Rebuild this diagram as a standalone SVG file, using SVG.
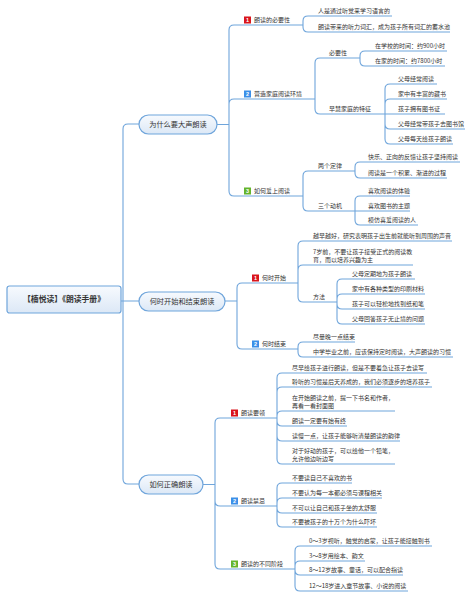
<svg xmlns="http://www.w3.org/2000/svg" width="473" height="599" viewBox="0 0 473 599">
<defs>
<linearGradient id="bg" x1="0" y1="0" x2="0" y2="1">
<stop offset="0" stop-color="#f7fafe"/>
<stop offset="1" stop-color="#dce8f6"/>
</linearGradient>
<style>
.c{fill:none;stroke:#6fa5db;stroke-width:1.1}
.u{stroke:#6fa5db;stroke-width:1.1}
.box{fill:url(#bg);stroke:#6fa5db;stroke-width:1.2}
text{font-family:"Noto Sans CJK SC","Noto Sans",sans-serif;fill:#333}
.t{font-size:6px}
.l1{font-size:7.2px;text-anchor:middle}
.root{font-size:7.8px;font-weight:bold;text-anchor:middle}
.bn{font-size:5.5px;font-weight:bold;fill:#fff;text-anchor:middle;font-family:"Liberation Sans",sans-serif}
.red{fill:#d9151c}.blue{fill:#3b8fe8}.green{fill:#63b42c}
</style>
</defs>
<rect width="473" height="599" fill="#fff"/>
<g id="connectors">
<path class="c" d="M121,301 H139 M123,301 V129 Q123,124 128,124 H139 M123,301 V479 Q123,484 128,484 H139"/>
<path class="c" d="M217,124.5 H229 V30 Q229,25 234,25 M229,124.5 V104 Q229,99 234,99 M229,124.5 V191 Q229,196 234,196"/>
<path class="c" d="M303,25 V21 Q303,16 308,16 M303,25 V27 Q303,32 308,32"/>
<path class="c" d="M315,99 V63 Q315,58 320,58 M315,99 V109 Q315,114 320,114"/>
<path class="c" d="M360,58 V56 Q360,51 365,51 M360,58 V61 Q360,66 365,66"/>
<path class="c" d="M385,114 V89 Q385,84 390,84 M385,114 V104 Q385,99 390,99 M385,114 H390 M385,114 V124 Q385,129 390,129 M385,114 V139 Q385,144 390,144"/>
<path class="c" d="M303,196 V176 Q303,171 308,171 M303,196 V206 Q303,211 308,211"/>
<path class="c" d="M355,171 V167 Q355,162 360,162 M355,171 V173 Q355,178 360,178"/>
<path class="c" d="M355,211 V201 Q355,196 360,196 M355,211 H360 M355,211 V220 Q355,225 360,225"/>
<path class="c" d="M225,301 H237 V288 Q237,283 242,283 M237,301 V344 Q237,349 242,349"/>
<path class="c" d="M298,283 V246 Q298,241 303,241 M298,283 V270 Q298,265 303,265 M298,283 V297 Q298,302 303,302"/>
<path class="c" d="M337,302 V284 Q337,279 342,279 M337,302 V299 Q337,294 342,294 M337,302 V304 Q337,309 342,309 M337,302 V319 Q337,324 342,324"/>
<path class="c" d="M298,349 V347 Q298,342 303,342 M298,349 V352 Q298,357 303,357"/>
<path class="c" d="M203,484.5 H215 V423 Q215,418 220,418 M215,484.5 V501 Q215,506 220,506 M215,484.5 V564 Q215,569 220,569"/>
<path class="c" d="M277,418 V378 Q277,373 282,373 M277,418 V392 Q277,387 282,387 M277,418 V416 Q277,411 282,411 M277,418 V421 Q277,426 282,426 M277,418 V436 Q277,441 282,441 M277,418 V459 Q277,464 282,464"/>
<path class="c" d="M277,506 V488 Q277,483 282,483 M277,506 V503 Q277,498 282,498 M277,506 V508 Q277,513 282,513 M277,506 V522 Q277,527 282,527"/>
<path class="c" d="M295,569 V551 Q295,546 300,546 M295,569 V566 Q295,561 300,561 M295,569 V570 Q295,575 300,575 M295,569 V586 Q295,591 300,591"/>
</g>
<g id="root"><rect class="box" x="7" y="286" width="114" height="27" rx="2.5"/><text class="root" x="64" y="302.3">【楠悦读】《朗读手册》</text></g>
<g id="n-why"><rect class="box" x="139" y="115" width="78" height="19" rx="9.5"/><text class="l1" x="178" y="127.1">为什么要大声朗读</text></g>
<g id="n-when"><rect class="box" x="139" y="292" width="86" height="19" rx="9.5"/><text class="l1" x="182" y="304.1">何时开始和结束朗读</text></g>
<g id="n-how"><rect class="box" x="139" y="475" width="64" height="19" rx="9.5"/><text class="l1" x="171" y="487.1">如何正确朗读</text></g>

<g id="a1"><rect class="red" x="244" y="16.5" width="7" height="7"/><text class="bn" x="247.5" y="22.2">1</text><text class="t" x="254" y="22">朗读的必要性</text><line class="u" x1="234" y1="25" x2="303" y2="25"/></g>
<g id="a1-1"><text class="t" x="318" y="13">人是通过听觉来学习语言的</text><line class="u" x1="308" y1="16" x2="392" y2="16"/></g>
<g id="a1-2"><text class="t" x="318" y="29">朗读带来的听力词汇，成为孩子所有词汇的蓄水池</text><line class="u" x1="308" y1="32" x2="450" y2="32"/></g>
<g id="a2"><rect class="blue" x="244" y="90.5" width="7" height="7"/><text class="bn" x="247.5" y="96.2">2</text><text class="t" x="254" y="96">营造家庭阅读环境</text><line class="u" x1="234" y1="99" x2="315" y2="99"/></g>
<g id="a2a"><text class="t" x="329" y="55">必要性</text><line class="u" x1="320" y1="58" x2="360" y2="58"/></g>
<g id="a2a-1"><text class="t" x="375" y="48">在学校的时间：约900小时</text><line class="u" x1="365" y1="51" x2="447" y2="51"/></g>
<g id="a2a-2"><text class="t" x="375" y="63">在家的时间：约7800小时</text><line class="u" x1="365" y1="66" x2="445" y2="66"/></g>
<g id="a2b"><text class="t" x="329" y="111">早慧家庭的特征</text><line class="u" x1="320" y1="114" x2="385" y2="114"/></g>
<g id="a2b-1"><text class="t" x="398" y="81">父母经常阅读</text><line class="u" x1="390" y1="84" x2="437" y2="84"/></g>
<g id="a2b-2"><text class="t" x="398" y="96">家中有丰富的藏书</text><line class="u" x1="390" y1="99" x2="447" y2="99"/></g>
<g id="a2b-3"><text class="t" x="398" y="111">孩子拥有图书证</text><line class="u" x1="390" y1="114" x2="445" y2="114"/></g>
<g id="a2b-4"><text class="t" x="398" y="126">父母经常带孩子去图书馆</text><line class="u" x1="390" y1="129" x2="465" y2="129"/></g>
<g id="a2b-5"><text class="t" x="398" y="141">父母每天给孩子朗读</text><line class="u" x1="390" y1="144" x2="453" y2="144"/></g>
<g id="a3"><rect class="green" x="244" y="187.5" width="7" height="7"/><text class="bn" x="247.5" y="193.2">3</text><text class="t" x="254" y="193">如何爱上阅读</text><line class="u" x1="234" y1="196" x2="303" y2="196"/></g>
<g id="a3a"><text class="t" x="318" y="168">两个定律</text><line class="u" x1="308" y1="171" x2="355" y2="171"/></g>
<g id="a3a-1"><text class="t" x="368" y="159">快乐、正向的反馈让孩子坚持阅读</text><line class="u" x1="360" y1="162" x2="460" y2="162"/></g>
<g id="a3a-2"><text class="t" x="368" y="175">阅读是一个积累、渐进的过程</text><line class="u" x1="360" y1="178" x2="447" y2="178"/></g>
<g id="a3b"><text class="t" x="318" y="208">三个动机</text><line class="u" x1="308" y1="211" x2="355" y2="211"/></g>
<g id="a3b-1"><text class="t" x="368" y="193">喜欢阅读的体验</text><line class="u" x1="360" y1="196" x2="410" y2="196"/></g>
<g id="a3b-2"><text class="t" x="368" y="208">喜欢图书的主题</text><line class="u" x1="360" y1="211" x2="410" y2="211"/></g>
<g id="a3b-3"><text class="t" x="368" y="222">模仿喜爱阅读的人</text><line class="u" x1="360" y1="225" x2="418" y2="225"/></g>

<g id="b1"><rect class="red" x="252" y="274.5" width="7" height="7"/><text class="bn" x="255.5" y="280.2">1</text><text class="t" x="262" y="280">何时开始</text><line class="u" x1="242" y1="283" x2="298" y2="283"/></g>
<g id="b1-1"><text class="t" x="313" y="238">越早越好，研究表明孩子出生前就能听到周围的声音</text><line class="u" x1="303" y1="241" x2="452" y2="241"/></g>
<g id="b1-2"><text class="t" x="313" y="253.7">7岁前，不要让孩子接受正式的阅读教</text><text class="t" x="313" y="262">育，而以培养兴趣为主</text><line class="u" x1="303" y1="265" x2="413" y2="265"/></g>
<g id="b1-3"><text class="t" x="313" y="299">方法</text><line class="u" x1="303" y1="302" x2="337" y2="302"/></g>
<g id="b1-3-1"><text class="t" x="352" y="276">父母定期地为孩子朗读</text><line class="u" x1="342" y1="279" x2="415" y2="279"/></g>
<g id="b1-3-2"><text class="t" x="352" y="291">家中有各种类型的印刷材料</text><line class="u" x1="342" y1="294" x2="425" y2="294"/></g>
<g id="b1-3-3"><text class="t" x="352" y="306">孩子可以轻松地找到纸和笔</text><line class="u" x1="342" y1="309" x2="425" y2="309"/></g>
<g id="b1-3-4"><text class="t" x="352" y="321">父母回答孩子无止境的问题</text><line class="u" x1="342" y1="324" x2="425" y2="324"/></g>
<g id="b2"><rect class="blue" x="252" y="340.5" width="7" height="7"/><text class="bn" x="255.5" y="346.2">2</text><text class="t" x="262" y="346">何时结束</text><line class="u" x1="242" y1="349" x2="298" y2="349"/></g>
<g id="b2-1"><text class="t" x="313" y="339">尽量晚一点结束</text><line class="u" x1="303" y1="342" x2="355" y2="342"/></g>
<g id="b2-2"><text class="t" x="313" y="354">中学毕业之前，应该保持定时阅读，大声朗读的习惯</text><line class="u" x1="303" y1="357" x2="453" y2="357"/></g>

<g id="c1"><rect class="red" x="231" y="409.5" width="7" height="7"/><text class="bn" x="234.5" y="415.2">1</text><text class="t" x="241" y="415">朗读要领</text><line class="u" x1="220" y1="418" x2="277" y2="418"/></g>
<g id="c1-1"><text class="t" x="292" y="370">尽早给孩子进行朗读，但是不要着急让孩子去读写</text><line class="u" x1="282" y1="373" x2="427" y2="373"/></g>
<g id="c1-2"><text class="t" x="292" y="384">聆听的习惯是后天养成的，我们必须逐步的培养孩子</text><line class="u" x1="282" y1="387" x2="432" y2="387"/></g>
<g id="c1-3"><text class="t" x="292" y="399.7">在开始朗读之前，提一下书名和作者，</text><text class="t" x="292" y="408">再看一看封面图</text><line class="u" x1="282" y1="411" x2="395" y2="411"/></g>
<g id="c1-4"><text class="t" x="292" y="423">朗读一定要有始有终</text><line class="u" x1="282" y1="426" x2="347" y2="426"/></g>
<g id="c1-5"><text class="t" x="292" y="438">读慢一点，让孩子能够听清楚朗读的韵律</text><line class="u" x1="282" y1="441" x2="400" y2="441"/></g>
<g id="c1-6"><text class="t" x="292" y="452.7">对于好动的孩子，可以给他一个铅笔，</text><text class="t" x="292" y="461">允许他边听边写</text><line class="u" x1="282" y1="464" x2="395" y2="464"/></g>
<g id="c2"><rect class="blue" x="231" y="497.5" width="7" height="7"/><text class="bn" x="234.5" y="503.2">2</text><text class="t" x="241" y="503">朗读禁忌</text><line class="u" x1="220" y1="506" x2="277" y2="506"/></g>
<g id="c2-1"><text class="t" x="292" y="480">不要读自己不喜欢的书</text><line class="u" x1="282" y1="483" x2="352" y2="483"/></g>
<g id="c2-2"><text class="t" x="292" y="495">不要认为每一本都必须与课程相关</text><line class="u" x1="282" y1="498" x2="382" y2="498"/></g>
<g id="c2-3"><text class="t" x="292" y="510">不可以让自己和孩子坐的太舒服</text><line class="u" x1="282" y1="513" x2="377" y2="513"/></g>
<g id="c2-4"><text class="t" x="292" y="524">不要被孩子的十万个为什么吓坏</text><line class="u" x1="282" y1="527" x2="377" y2="527"/></g>
<g id="c3"><rect class="green" x="231" y="560.5" width="7" height="7"/><text class="bn" x="234.5" y="566.2">3</text><text class="t" x="241" y="566">朗读的不同阶段</text><line class="u" x1="220" y1="569" x2="295" y2="569"/></g>
<g id="c3-1"><text class="t" x="309" y="543">0～3岁视听，触觉的启蒙，让孩子能接触到书</text><line class="u" x1="300" y1="546" x2="432" y2="546"/></g>
<g id="c3-2"><text class="t" x="309" y="558">3～8岁用绘本、韵文</text><line class="u" x1="300" y1="561" x2="365" y2="561"/></g>
<g id="c3-3"><text class="t" x="309" y="572">8～12岁故事、童话，可以配合指读</text><line class="u" x1="300" y1="575" x2="403" y2="575"/></g>
<g id="c3-4"><text class="t" x="309" y="588">12～18岁进入章节故事、小说的阅读</text><line class="u" x1="300" y1="591" x2="408" y2="591"/></g>
</svg>
